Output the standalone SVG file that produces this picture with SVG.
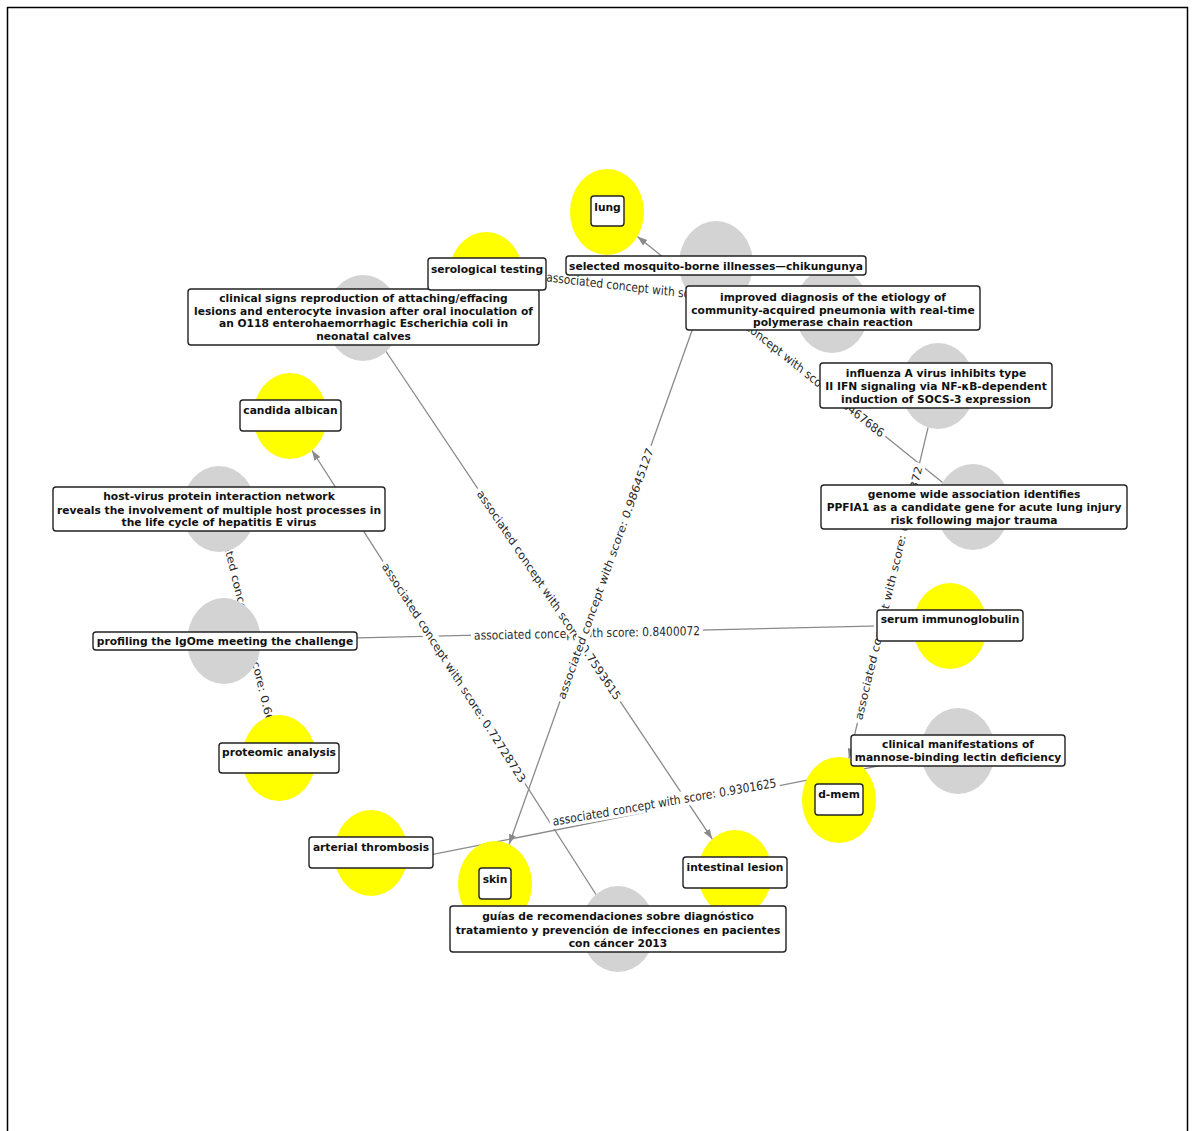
<svg xmlns="http://www.w3.org/2000/svg" width="1195" height="1131" viewBox="0 0 1195 1131">
<style>
.edge{stroke:#8a8a8a;stroke-width:1.3;fill:none;marker-end:url(#arr)}
.el rect{fill:#fff;stroke:none}
.el text{font-family:"DejaVu Sans",sans-serif;font-size:10.7px;fill:#2a2a2a;text-anchor:middle}
.cg{fill:#d3d3d3}
.cy{fill:#ffff00}
.box{fill:#fff;stroke:#222;stroke-width:1.4}
.nt{font-family:"DejaVu Sans",sans-serif;font-weight:bold;font-size:10.7px;fill:#111;text-anchor:middle}
</style>
<defs>
<marker id="arr" markerUnits="userSpaceOnUse" markerWidth="11" markerHeight="8" refX="10" refY="3.5" orient="auto">
<path d="M0,0 L10,3.5 L0,7 z" fill="#8a8a8a"/>
</marker>
</defs>
<rect x="0" y="0" width="1195" height="1131" fill="#fff"/>
<rect x="7.5" y="7.5" width="1180" height="1140" fill="none" stroke="#000" stroke-width="1.5"/>

<g id="connectors">
<line class="edge" x1="942.6" y1="482.5" x2="637.4" y2="236.5"/>
<line class="edge" x1="701.9" y1="302.7" x2="509.1" y2="844.3"/>
<line class="edge" x1="795.2" y1="305.7" x2="522.2" y2="274.3"/>
<line class="edge" x1="385.7" y1="351" x2="712.3" y2="839.1"/>
<line class="edge" x1="928.1" y1="427.4" x2="848.9" y2="758.6"/>
<line class="edge" x1="229" y1="550.4" x2="269" y2="716.6"/>
<line class="edge" x1="261" y1="640.2" x2="913" y2="625.2"/>
<line class="edge" x1="921.4" y1="757.4" x2="407.6" y2="859.4"/>
<line class="edge" x1="596" y1="894.5" x2="312" y2="450.5"/>
<g class="el" transform="translate(790,359.5) scale(1,1.162) rotate(34.7)"><rect x="-116" y="-6.5" width="232" height="13"/><text y="3.8">associated concept with score: 0.8467686</text></g>
<g class="el" transform="translate(658.7,290) scale(1,1.162) rotate(5.7)"><rect x="-116" y="-6.5" width="232" height="13"/><text y="3.8">associated concept with score: 0.8712304</text></g>
<g class="el" transform="translate(888.5,593) scale(1,1.162) rotate(-74.5)"><rect x="-116" y="-6.5" width="232" height="13"/><text y="3.8">associated concept with score: 0.8591372</text></g>
<g class="el" transform="translate(249,633.5) scale(1,1.162) rotate(74.4)"><rect x="-116" y="-6.5" width="232" height="13"/><text y="3.8">associated concept with score: 0.6624391</text></g>
<g class="el" transform="translate(664.5,802) scale(1,1.162) rotate(-8.5)"><rect x="-116" y="-6.5" width="232" height="13"/><text y="3.8">associated concept with score: 0.9301625</text></g>
<g class="el" transform="translate(454,672.5) scale(1,1.162) rotate(53.4)"><rect x="-119" y="-6.5" width="238" height="13"/><text y="3.8">associated concept with score: 0.72728723</text></g>
<g class="el" transform="translate(587,633) scale(1,1.162) rotate(-1.02)"><rect x="-116" y="-6.5" width="232" height="13"/><text y="3.8">associated concept with score: 0.8400072</text></g>
<g class="el" transform="translate(549,595) scale(1,1.162) rotate(52.1)"><rect x="-116" y="-6.5" width="232" height="13"/><text y="3.8">associated concept with score: 0.7593615</text></g>
<g class="el" transform="translate(605.5,573.5) scale(1,1.162) rotate(-67.5)"><rect x="-119" y="-6.5" width="238" height="13"/><text y="3.8">associated concept with score: 0.98645127</text></g>
</g>

<g id="circles">
<ellipse class="cy" cx="607" cy="212" rx="37" ry="43"/>
<ellipse class="cy" cx="486" cy="275" rx="37" ry="43"/>
<ellipse class="cg" cx="716" cy="264" rx="37" ry="43"/>
<ellipse class="cg" cx="832" cy="310" rx="37" ry="43"/>
<ellipse class="cg" cx="363" cy="318" rx="37" ry="43"/>
<ellipse class="cy" cx="290" cy="416" rx="37" ry="43"/>
<ellipse class="cg" cx="938" cy="386" rx="37" ry="43"/>
<ellipse class="cg" cx="973" cy="507" rx="37" ry="43"/>
<ellipse class="cg" cx="219" cy="509" rx="37" ry="43"/>
<ellipse class="cg" cx="224" cy="641" rx="37" ry="43"/>
<ellipse class="cy" cx="950" cy="626" rx="37" ry="43"/>
<ellipse class="cg" cx="958" cy="751" rx="37" ry="43"/>
<ellipse class="cy" cx="839" cy="800" rx="37" ry="43"/>
<ellipse class="cy" cx="279" cy="758" rx="37" ry="43"/>
<ellipse class="cy" cx="371" cy="853" rx="37" ry="43"/>
<ellipse class="cy" cx="495" cy="884" rx="37" ry="43"/>
<ellipse class="cy" cx="735" cy="873" rx="37" ry="43"/>
<ellipse class="cg" cx="618" cy="929" rx="37" ry="43"/>
</g>

<g id="n-lung"><rect class="box" x="591" y="196" width="33" height="30" rx="3"/><text class="nt" x="607.5" y="211">lung</text></g>
<g id="n-mosquito"><rect class="box" x="566" y="256" width="300" height="19" rx="3"/><text class="nt" x="716" y="270">selected mosquito-borne illnesses—chikungunya</text></g>
<g id="n-improved"><rect class="box" x="686" y="286" width="294" height="44" rx="3"/><text class="nt" x="833" y="301">improved diagnosis of the etiology of</text><text class="nt" x="833" y="313.5">community-acquired pneumonia with real-time</text><text class="nt" x="833" y="326">polymerase chain reaction</text></g>
<g id="n-clinical-signs"><rect class="box" x="188" y="289" width="351" height="56" rx="3"/><text class="nt" x="363.5" y="302">clinical signs reproduction of attaching/effacing</text><text class="nt" x="363.5" y="314.5">lesions and enterocyte invasion after oral inoculation of</text><text class="nt" x="363.5" y="327">an O118 enterohaemorrhagic Escherichia coli in</text><text class="nt" x="363.5" y="340">neonatal calves</text></g>
<g id="n-serological"><rect class="box" x="428" y="258" width="118" height="32" rx="3"/><text class="nt" x="487" y="273">serological testing</text></g>
<g id="n-candida"><rect class="box" x="240" y="400" width="101" height="31" rx="3"/><text class="nt" x="290.5" y="414">candida albican</text></g>
<g id="n-influenza"><rect class="box" x="820" y="363" width="232" height="45" rx="3"/><text class="nt" x="936" y="377">influenza A virus inhibits type</text><text class="nt" x="936" y="390">II IFN signaling via NF-κB-dependent</text><text class="nt" x="936" y="403">induction of SOCS-3 expression</text></g>
<g id="n-genome"><rect class="box" x="821" y="485" width="306" height="44" rx="3"/><text class="nt" x="974" y="498">genome wide association identifies</text><text class="nt" x="974" y="511">PPFIA1 as a candidate gene for acute lung injury</text><text class="nt" x="974" y="524">risk following major trauma</text></g>
<g id="n-hostvirus"><rect class="box" x="53" y="487" width="332" height="44" rx="3"/><text class="nt" x="219" y="500">host-virus protein interaction network</text><text class="nt" x="219" y="513.5">reveals the involvement of multiple host processes in</text><text class="nt" x="219" y="526">the life cycle of hepatitis E virus</text></g>
<g id="n-profiling"><rect class="box" x="93" y="632" width="264" height="18" rx="3"/><text class="nt" x="225" y="645">profiling the IgOme meeting the challenge</text></g>
<g id="n-serum"><rect class="box" x="877" y="610" width="146" height="31" rx="3"/><text class="nt" x="950" y="623">serum immunoglobulin</text></g>
<g id="n-mannose"><rect class="box" x="851" y="735" width="214" height="31" rx="3"/><text class="nt" x="958" y="748">clinical manifestations of</text><text class="nt" x="958" y="761">mannose-binding lectin deficiency</text></g>
<g id="n-dmem"><rect class="box" x="815" y="784" width="48" height="31" rx="3"/><text class="nt" x="839" y="798">d-mem</text></g>
<g id="n-proteomic"><rect class="box" x="219" y="743" width="120" height="30" rx="3"/><text class="nt" x="279" y="756">proteomic analysis</text></g>
<g id="n-arterial"><rect class="box" x="309" y="837" width="124" height="31" rx="3"/><text class="nt" x="371" y="851">arterial thrombosis</text></g>
<g id="n-skin"><rect class="box" x="479" y="868" width="32" height="31" rx="3"/><text class="nt" x="495" y="883">skin</text></g>
<g id="n-intestinal"><rect class="box" x="683" y="857" width="104" height="31" rx="3"/><text class="nt" x="735" y="871">intestinal lesion</text></g>
<g id="n-guias"><rect class="box" x="450" y="906" width="336" height="46" rx="3"/><text class="nt" x="618" y="920">guías de recomendaciones sobre diagnóstico</text><text class="nt" x="618" y="934">tratamiento y prevención de infecciones en pacientes</text><text class="nt" x="618" y="947">con cáncer 2013</text></g>
</svg>
